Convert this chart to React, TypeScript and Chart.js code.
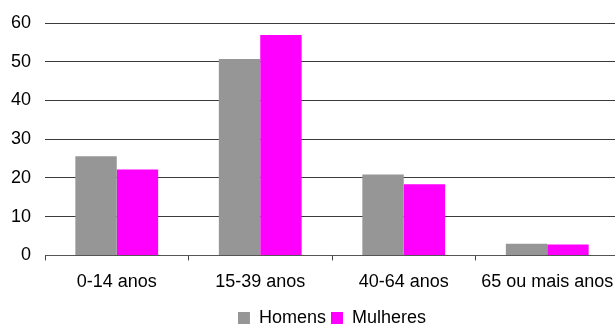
import React, { useEffect, useRef } from "react";
import { Chart, registerables } from "chart.js";

Chart.register(...registerables);

const categories = ["0-14 anos", "15-39 anos", "40-64 anos", "65 ou mais anos"];
const homens = [25.6, 50.7, 20.9, 3.0];
const mulheres = [22.2, 56.9, 18.4, 2.8];
const seriesNames = ["Homens", "Mulheres"];
const yMin = 0;
const yMax = 60;
const yStep = 10;

const FONT = "'Liberation Sans', Arial, sans-serif";

export default function App() {
  const ref = useRef<HTMLCanvasElement | null>(null);

  useEffect(() => {
    if (!ref.current) return;
    const chart = new Chart(ref.current, {
      type: "bar",
      data: {
        labels: categories,
        datasets: [
          {
            label: seriesNames[0],
            data: homens,
            backgroundColor: "#969696",
            borderWidth: 0,
            barPercentage: 1,
            categoryPercentage: 0.577,
          },
          {
            label: seriesNames[1],
            data: mulheres,
            backgroundColor: "#FF00FF",
            borderWidth: 0,
            barPercentage: 1,
            categoryPercentage: 0.577,
          },
        ],
      },
      options: {
        responsive: false,
        animation: false,
        layout: { padding: { top: 23, right: 45, left: 45, bottom: 0 } },
        plugins: {
          legend: {
            position: "bottom",
            labels: {
              boxWidth: 12,
              boxHeight: 12,
              padding: 5,
              color: "#000",
              font: { family: FONT, size: 18 },
            },
          },
          tooltip: { enabled: false },
        },
        scales: {
          x: {
            grid: {
              offset: true,
              drawOnChartArea: false,
              drawTicks: true,
              tickLength: 5,
              tickColor: "#444",
            },
            border: { display: true, color: "#555", width: 1 },
            ticks: {
              color: "#000",
              font: { family: FONT, size: 18 },
              padding: 11,
              maxRotation: 0,
              autoSkip: false,
            },
          },
          y: {
            min: yMin,
            max: yMax,
            afterFit: (scale: any) => {
              scale.width = 0;
            },
            grid: {
              color: "#3a3a3a",
              lineWidth: 1,
              drawTicks: false,
            },
            border: { display: false },
            ticks: {
              stepSize: yStep,
              color: "#000",
              mirror: true,
              crossAlign: "far",
              padding: -34,
              font: { family: FONT, size: 18 },
            },
          },
        },
      },
    });
    return () => chart.destroy();
  }, []);

  return (
    <div
      style={{
        position: "fixed",
        left: 0,
        top: 0,
        width: 615,
        height: 324,
        overflow: "hidden",
        background: "#fff",
      }}
    >
      <canvas ref={ref} width={664} height={337} style={{ display: "block" }} />
    </div>
  );
}
